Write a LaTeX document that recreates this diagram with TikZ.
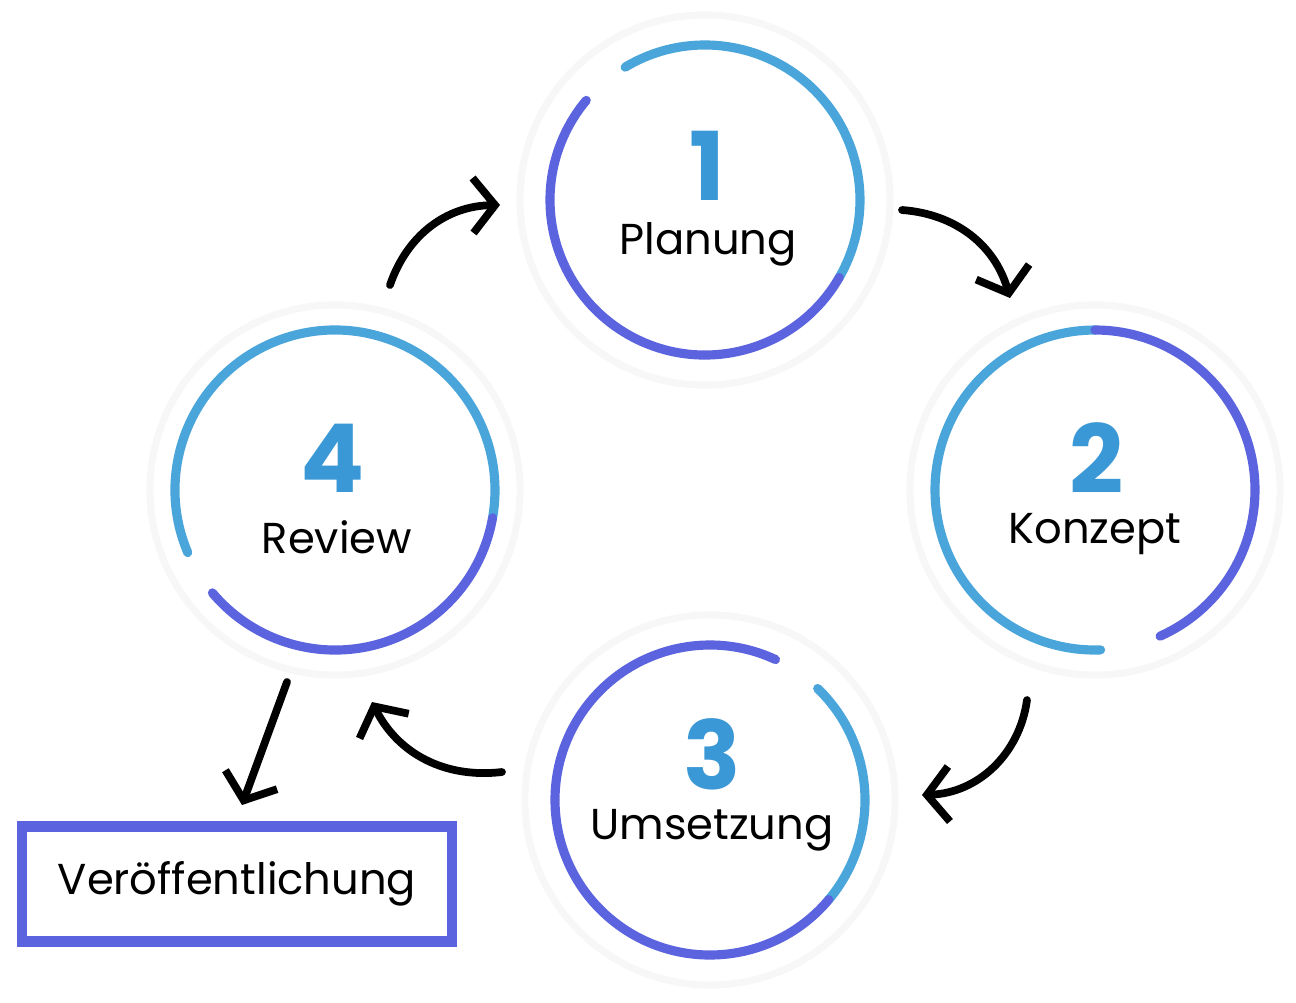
\documentclass[tikz,border=0pt]{standalone}
\usepackage{fontspec}
\setmainfont{Poppins}
\usetikzlibrary{positioning, arrows.meta}
\definecolor{ringblue}{HTML}{4AA6DA}
\definecolor{ringviolet}{HTML}{5B63DE}
\definecolor{numblue}{HTML}{3A98D6}
\tikzset{
  disc/.style={circle, fill=white, draw=black!3, line width=2pt, minimum size=3.7cm},
  numtext/.style={font=\fontsize{27}{27}\selectfont\bfseries, text=numblue, inner sep=0pt},
  steptext/.style={font=\fontsize{12.3}{12.3}\selectfont, inner sep=1pt},
  ring/.style={line width=2.6pt, line cap=round},
  cyclearrow/.style={line width=2.2pt, line cap=round, -{Straight Barb[length=2.2mm,width=5.5mm,line width=2.2pt]}}
}
\begin{document}
\begin{tikzpicture}[x=0.01cm, y=-0.01cm]
  \useasboundingbox (0,0) rectangle (1296,1002);

  % Step discs
  \node[disc] (S1) at (705,200) {};
  \node[disc] (S2) at (1095,490) {};
  \node[disc] (S3) at (710,800) {};
  \node[disc] (S4) at (335,490) {};

  % Rings (two tones, y axis points down)
  \draw[ring, ringblue] (S1.center) ++(-121:155) arc (-121:30:155);
  \draw[ring, ringviolet] (S1.center) ++(30:155) arc (30:220:155);
  \draw[ring, ringblue] (S2.center) ++(88:160) arc (88:270:160);
  \draw[ring, ringviolet] (S2.center) ++(-90:160) arc (-90:66:160);
  \draw[ring, ringblue] (S3.center) ++(-46:155) arc (-46:40:155);
  \draw[ring, ringviolet] (S3.center) ++(40:155) arc (40:295:155);
  \draw[ring, ringblue] (S4.center) ++(-203:160) arc (-203:10:160);
  \draw[ring, ringviolet] (S4.center) ++(10:160) arc (10:140:160);

  % Labels
  \node[numtext] (N1) at (707,166) {1};
  \node[steptext] (L1) at (708,244) {Planung};
  \node[numtext] (N2) at (1097,458) {2};
  \node[steptext] (L2) at (1095,534) {Konzept};
  \node[numtext] (N3) at (712,754) {3};
  \node[steptext] (L3) at (712,830) {Umsetzung};
  \node[numtext] (N4) at (333,458) {4};
  \node[steptext] (L4) at (337,537) {Review};

  % Publication box
  \node[draw=ringviolet, line width=3pt, minimum width=4.3cm, minimum height=1.15cm, steptext] (V) at (237,884) {Veröffentlichung};

  % Arrow ends
  \coordinate (A1s) at (390,285);  \coordinate (A1e) at (500,205);
  \coordinate (A2s) at (902,210);  \coordinate (A2e) at (1010,298);
  \coordinate (A3s) at (1027,700); \coordinate (A3e) at (922,795);
  \coordinate (A4s) at (502,772);  \coordinate (A4e) at (372,702);
  \coordinate (A5s) at (287,682);  \coordinate (A5e) at (242,805);

  % Arrows
  \draw[cyclearrow] (A1s) to[bend left=35] (A1e);
  \draw[cyclearrow] (A2s) to[bend left=35] (A2e);
  \draw[cyclearrow] (A3s) to[bend left=40] (A3e);
  \draw[cyclearrow] (A4s) to[bend left=35] (A4e);
  \draw[cyclearrow] (A5s) -- (A5e);
\end{tikzpicture}
\end{document}
